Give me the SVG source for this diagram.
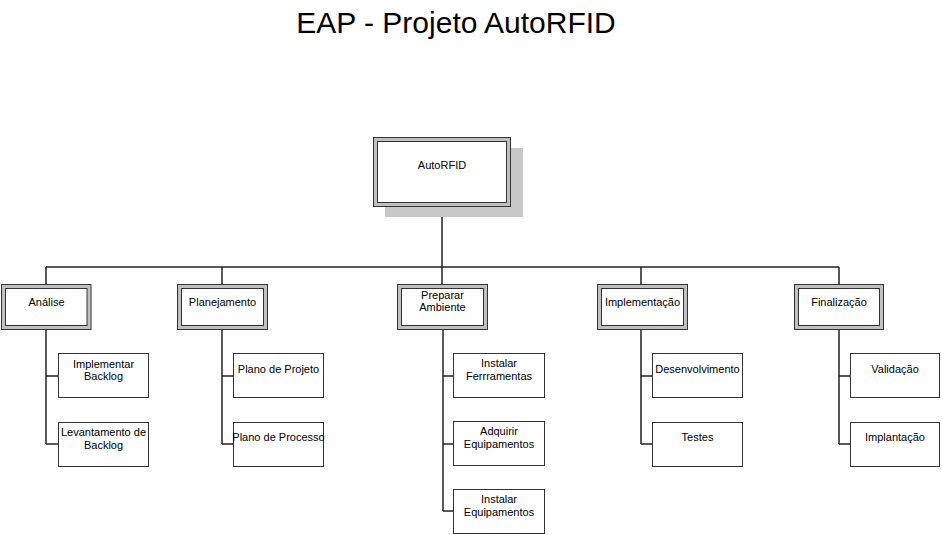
<svg xmlns="http://www.w3.org/2000/svg" width="942" height="535" viewBox="0 0 942 535">
<style>
text{font-family:"Liberation Sans",Arial,sans-serif;fill:#000;text-anchor:middle}
.t{font-size:11px}
.title{font-size:30px}
.frame{fill:#c0c0c0;stroke:#333;stroke-width:1}
.inner{fill:#fff;stroke:#333;stroke-width:1}
.box{fill:#fff;stroke:#333;stroke-width:1}
.shadow{fill:#c8c8c8;stroke:none}
.conn line{stroke:#222;stroke-width:1.5;fill:none}
</style>
<rect width="942" height="535" fill="#fff"/>
<text class="title" x="456" y="33">EAP - Projeto AutoRFID</text>

<g id="connectors" class="conn">
<line x1="442" y1="206" x2="442" y2="285"/>
<line x1="46" y1="267" x2="839" y2="267"/>
<line x1="46" y1="267" x2="46" y2="285"/>
<line x1="222" y1="267" x2="222" y2="285"/>
<line x1="641" y1="267" x2="641" y2="285"/>
<line x1="839" y1="267" x2="839" y2="285"/>
<line x1="46" y1="329" x2="46" y2="444"/>
<line x1="46" y1="376" x2="58" y2="376"/>
<line x1="46" y1="444" x2="58" y2="444"/>
<line x1="222" y1="329" x2="222" y2="444"/>
<line x1="222" y1="376" x2="233" y2="376"/>
<line x1="222" y1="444" x2="233" y2="444"/>
<line x1="443" y1="329" x2="443" y2="511"/>
<line x1="443" y1="376" x2="453" y2="376"/>
<line x1="443" y1="444" x2="453" y2="444"/>
<line x1="443" y1="511" x2="453" y2="511"/>
<line x1="641" y1="329" x2="641" y2="444"/>
<line x1="641" y1="376" x2="652" y2="376"/>
<line x1="641" y1="444" x2="652" y2="444"/>
<line x1="839" y1="329" x2="839" y2="444"/>
<line x1="839" y1="376" x2="850" y2="376"/>
<line x1="839" y1="444" x2="850" y2="444"/>
</g>

<g id="root">
<rect class="shadow" x="385" y="148" width="138" height="69"/>
<rect class="frame" x="373.5" y="137.5" width="137" height="69"/>
<rect class="inner" x="377.5" y="141.5" width="129" height="61"/>
<text class="t" x="442" y="169">AutoRFID</text>
</g>

<g id="analise">
<rect class="frame" x="1.5" y="284.5" width="89.5" height="45"/>
<rect class="inner" x="5.5" y="288.5" width="81.5" height="37"/>
<text class="t" x="46.5" y="306">Análise</text>
</g>
<g id="planejamento">
<rect class="frame" x="177.5" y="284.5" width="90" height="45"/>
<rect class="inner" x="181.5" y="288.5" width="82" height="37"/>
<text class="t" x="222.5" y="306">Planejamento</text>
</g>
<g id="preparar">
<rect class="frame" x="397.5" y="284.5" width="90" height="45"/>
<rect class="inner" x="401.5" y="288.5" width="82" height="37"/>
<text class="t" x="442.5" y="299">Preparar</text>
<text class="t" x="442.5" y="311">Ambiente</text>
</g>
<g id="implementacao">
<rect class="frame" x="597.5" y="284.5" width="90" height="45"/>
<rect class="inner" x="601.5" y="288.5" width="82" height="37"/>
<text class="t" x="642.5" y="306">Implementação</text>
</g>
<g id="finalizacao">
<rect class="frame" x="794.5" y="284.5" width="89" height="45"/>
<rect class="inner" x="798.5" y="288.5" width="81" height="37"/>
<text class="t" x="839" y="306">Finalização</text>
</g>

<g id="implementar-backlog">
<rect class="box" x="58.5" y="353.5" width="90" height="44"/>
<text class="t" x="103.5" y="367.5">Implementar</text>
<text class="t" x="103.5" y="380">Backlog</text>
</g>
<g id="levantamento-backlog">
<rect class="box" x="58.5" y="422.5" width="90" height="44"/>
<text class="t" x="103.5" y="436">Levantamento de</text>
<text class="t" x="103.5" y="448.5">Backlog</text>
</g>
<g id="plano-projeto">
<rect class="box" x="233.5" y="353.5" width="90" height="44"/>
<text class="t" x="278.5" y="373">Plano de Projeto</text>
</g>
<g id="plano-processo">
<rect class="box" x="233.5" y="422.5" width="90" height="44"/>
<text class="t" x="278.5" y="441">Plano de Processo</text>
</g>
<g id="instalar-ferramentas">
<rect class="box" x="453.5" y="353.5" width="91" height="44"/>
<text class="t" x="499" y="367">Instalar</text>
<text class="t" x="499" y="379.5">Ferrramentas</text>
</g>
<g id="adquirir-equipamentos">
<rect class="box" x="453.5" y="421.5" width="91" height="44"/>
<text class="t" x="499" y="435">Adquirir</text>
<text class="t" x="499" y="447.5">Equipamentos</text>
</g>
<g id="instalar-equipamentos">
<rect class="box" x="453.5" y="489.5" width="91" height="44"/>
<text class="t" x="499" y="503">Instalar</text>
<text class="t" x="499" y="515.5">Equipamentos</text>
</g>
<g id="desenvolvimento">
<rect class="box" x="652.5" y="353.5" width="90" height="44"/>
<text class="t" x="697.5" y="373">Desenvolvimento</text>
</g>
<g id="testes">
<rect class="box" x="652.5" y="422.5" width="90" height="44"/>
<text class="t" x="697.5" y="441">Testes</text>
</g>
<g id="validacao">
<rect class="box" x="850.5" y="353.5" width="89" height="44"/>
<text class="t" x="895" y="373">Validação</text>
</g>
<g id="implantacao">
<rect class="box" x="850.5" y="422.5" width="89" height="44"/>
<text class="t" x="895" y="441">Implantação</text>
</g>
</svg>
